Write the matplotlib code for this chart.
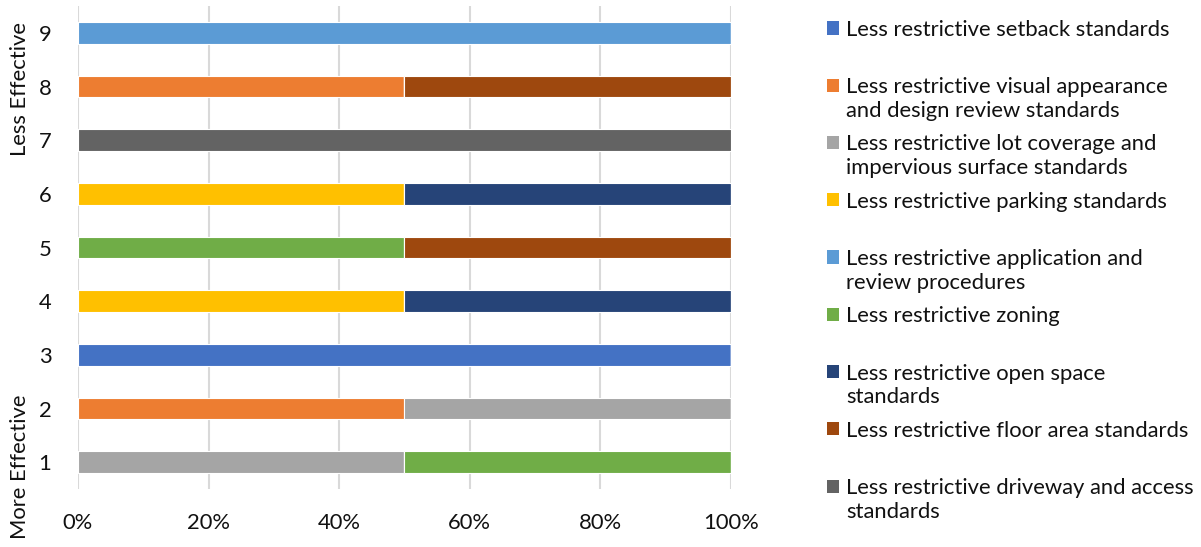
import numpy as np
import matplotlib.pyplot as plt
from matplotlib.patches import Rectangle
from matplotlib.ticker import PercentFormatter

plt.rcParams['font.family'] = ['Lato', 'DejaVu Sans']

# Rank positions (1 = more effective, 9 = less effective)
ranks = [1, 2, 3, 4, 5, 6, 7, 8, 9]

# Share of responses (%) for each rank, one list per measure
setback = [0, 0, 100, 0, 0, 0, 0, 0, 0]
visual = [0, 50, 0, 0, 0, 0, 0, 50, 0]
lot_coverage = [50, 50, 0, 0, 0, 0, 0, 0, 0]
parking = [0, 0, 0, 50, 0, 50, 0, 0, 0]
application = [0, 0, 0, 0, 0, 0, 0, 0, 100]
zoning = [50, 0, 0, 0, 50, 0, 0, 0, 0]
open_space = [0, 0, 0, 50, 0, 50, 0, 0, 0]
floor_area = [0, 0, 0, 0, 50, 0, 0, 50, 0]
driveway = [0, 0, 0, 0, 0, 0, 100, 0, 0]

labels = [
    "Less restrictive setback standards",
    "Less restrictive visual appearance\nand design review standards",
    "Less restrictive lot coverage and\nimpervious surface standards",
    "Less restrictive parking standards",
    "Less restrictive application and\nreview procedures",
    "Less restrictive zoning",
    "Less restrictive open space\nstandards",
    "Less restrictive floor area standards",
    "Less restrictive driveway and access\nstandards",
]
series = [setback, visual, lot_coverage, parking, application,
          zoning, open_space, floor_area, driveway]
colors = ["#4472C4", "#ED7D31", "#A5A5A5", "#FFC000", "#5B9BD5",
          "#70AD47", "#264478", "#9E480E", "#636363"]

FS = 15.8
TXT = "#111111"

fig = plt.figure(figsize=(12.01, 5.47), dpi=100)
ax = fig.add_axes([0.0649, 0.106, 0.5437, 0.883])

left = np.zeros(len(ranks))
for vals, col in zip(series, colors):
    vals = np.array(vals, dtype=float)
    ax.barh(ranks, vals, left=left, height=0.4, color=col,
            edgecolor="white", linewidth=0.8, zorder=3)
    left += vals

ax.set_xlim(0, 100)
ax.set_ylim(0.5, 9.5)
ax.set_xticks(np.arange(0, 101, 20))
ax.xaxis.set_major_formatter(PercentFormatter(decimals=0))
ax.set_yticks(ranks)
ax.grid(axis="x", color="#D9D9D9", linewidth=1.5, zorder=0)
for s in ax.spines.values():
    s.set_visible(False)
ax.tick_params(axis="both", length=0, labelsize=FS, colors=TXT)
ax.tick_params(axis="x", pad=17)
ax.tick_params(axis="y", pad=19)

# Axis end captions
fig.text(20 / 1201, 1 - 467 / 547, "More Effective", rotation=90,
         ha="center", va="center", fontsize=FS, color=TXT)
fig.text(20 / 1201, 1 - 89 / 547, "Less Effective", rotation=90,
         ha="center", va="center", fontsize=FS, color=TXT)

# Legend drawn in fixed slots on the right
W, H = 1201, 547
for i, (lab, col) in enumerate(zip(labels, colors)):
    yc = 28 + i * 57.25
    fig.add_artist(Rectangle(((833 - 6.5) / W, 1 - (yc + 6.5) / H),
                             13 / W, 13 / H, transform=fig.transFigure,
                             facecolor=col, edgecolor="none"))
    fig.text(846 / W, 1 - (yc - 8) / H, lab, ha="left", va="top",
             fontsize=FS, color=TXT, linespacing=1.22)

fig.savefig("out.png", dpi=100)
